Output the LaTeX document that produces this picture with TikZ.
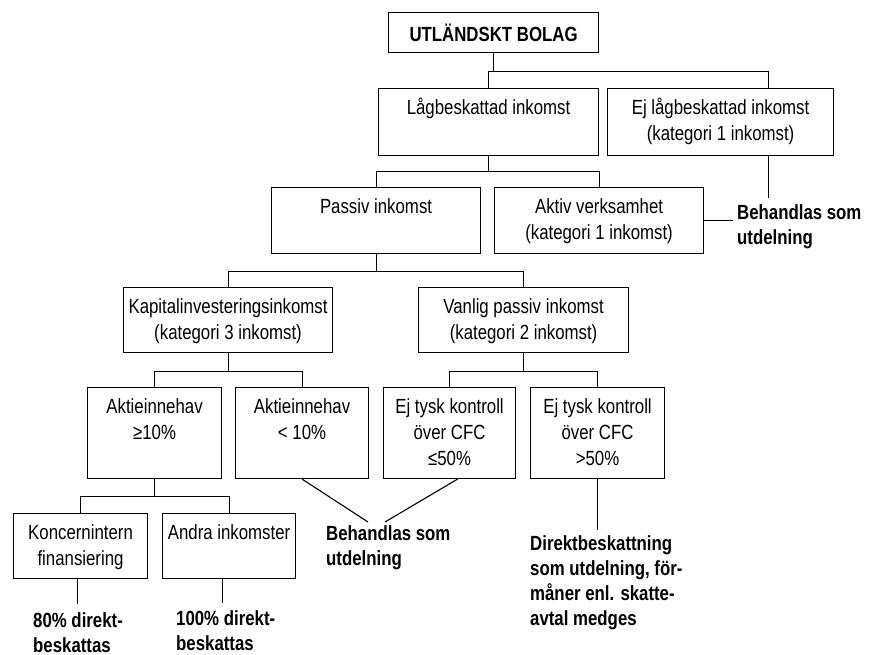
\documentclass[tikz,border=0pt]{standalone}
\usepackage{fontspec}
\setmainfont{Liberation Sans}[FakeStretch=0.82]
\usetikzlibrary{positioning,calc}

\newcommand{\rutatext}[3]{\parbox[c][#2pt][t]{#1pt}{\centering\vspace*{8pt}\strut #3}}

\tikzset{
  ruta/.style={draw, line width=1.1pt, inner sep=0pt, anchor=north west},
  utfall/.style={font=\fontsize{20.5}{25}\selectfont\bfseries, align=left, anchor=north west, inner sep=0pt},
  led/.style={line width=1.1pt}
}

\begin{document}
\begin{tikzpicture}[x=1pt, y=-1pt, font=\fontsize{20.5}{26}\selectfont]
    \useasboundingbox (0,0) rectangle (875,655);

    % Rutor
    \node[ruta, minimum width=210pt, minimum height=40pt, font=\fontsize{20.5}{26}\selectfont\bfseries] (bolag) at (388,12) {UTLÄNDSKT BOLAG};
    \node[ruta] (lag) at (378,88) {\rutatext{220}{67}{Lågbeskattad inkomst}};
    \node[ruta] (ejlag) at (607,88) {\rutatext{226}{67}{Ej lågbeskattad inkomst\\(kategori 1 inkomst)}};
    \node[ruta] (passiv) at (271,187) {\rutatext{209}{66}{Passiv inkomst}};
    \node[ruta] (aktiv) at (494,187) {\rutatext{209}{66}{Aktiv verksamhet\\(kategori 1 inkomst)}};
    \node[ruta] (kapital) at (123,287) {\rutatext{209}{65}{Kapitalinvesteringsinkomst\\(kategori 3 inkomst)}};
    \node[ruta] (vanlig) at (418,287) {\rutatext{210}{65}{Vanlig passiv inkomst\\(kategori 2 inkomst)}};
    \node[ruta] (storre) at (87,387) {\rutatext{134}{91}{Aktieinnehav\\≥10\%}};
    \node[ruta] (mindre) at (235,387) {\rutatext{133}{91}{Aktieinnehav\\< 10\%}};
    \node[ruta] (ejkontroll) at (383,387) {\rutatext{132}{91}{Ej tysk kontroll\\över CFC\\≤50\%}};
    \node[ruta] (kontroll) at (530,387) {\rutatext{134}{91}{Ej tysk kontroll\\över CFC\\>50\%}};
    \node[ruta] (koncern) at (13,513) {\rutatext{134}{65}{Koncernintern\\finansiering}};
    \node[ruta] (andra) at (162,513) {\rutatext{133}{65}{Andra inkomster}};

    % Utfall
    \node[utfall] (utd1) at (737,204) {Behandlas som\\utdelning};
    \node[utfall] (utd2) at (326,525) {Behandlas som\\utdelning};
    \node[utfall] (direkt80) at (33,612) {80\% direkt-\\beskattas};
    \node[utfall] (direkt100) at (176,610) {100\% direkt-\\beskattas};
    \node[utfall] (direkt) at (530,535) {Direktbeskattning\\som utdelning, för-\\måner enl. skatte-\\avtal medges};

    % Linjer
    \draw[led] (bolag.south) -- ++(0,18) coordinate (g0);
    \draw[led] (lag.north) |- (g0) -| ([xshift=48pt]ejlag.north);
    \draw[led] ([xshift=48pt]ejlag.south) -- ++(0,42) coordinate (e1);
    \draw[led] (lag.south) -- ++(0,15) coordinate (g1);
    \draw[led] (passiv.north) |- (g1) -| (aktiv.north);
    \draw[led] (aktiv.east) -- ([xshift=-4pt]utd1.west |- aktiv.east);
    \draw[led] (passiv.south) -- ++(0,17) coordinate (g2);
    \draw[led] (kapital.north) |- (g2) -| (vanlig.north);
    \draw[led] (kapital.south) -- ++(0,18) coordinate (g3);
    \draw[led] (storre.north) |- (g3) -| (mindre.north);
    \draw[led] (vanlig.south) -- ++(0,18) coordinate (g4);
    \draw[led] (ejkontroll.north) |- (g4) -| (kontroll.north);
    \draw[led] (storre.south) -- ++(0,17) coordinate (g5);
    \draw[led] (koncern.north) |- (g5) -| (andra.north);
    \draw[led] (mindre.south) -- ([xshift=42pt,yshift=3pt]utd2.north west);
    \draw[led] ([xshift=8pt]ejkontroll.south) -- ([xshift=59pt,yshift=3pt]utd2.north west);
    \draw[led] (kontroll.south) -- ++(0,51) coordinate (k1);
    \draw[led] ([xshift=-3pt]koncern.south) -- ++(0,25) coordinate (k2);
    \draw[led] ([xshift=-7pt]andra.south) -- ++(0,24) coordinate (k3);
\end{tikzpicture}
\end{document}
